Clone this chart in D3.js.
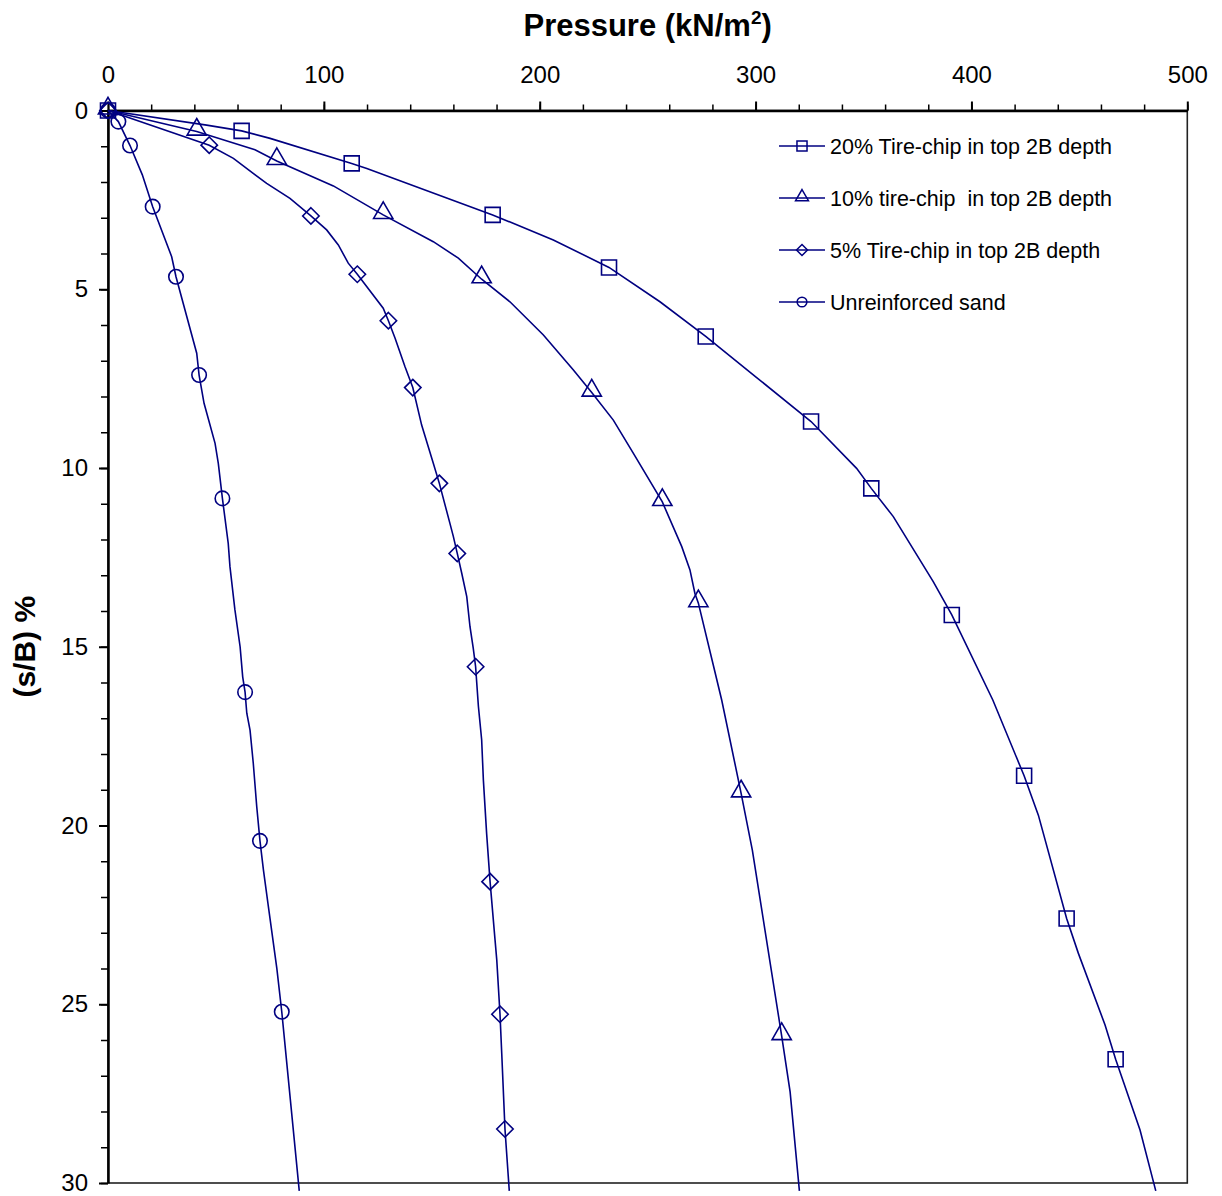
<!DOCTYPE html>
<html>
<head>
<meta charset="utf-8">
<script src="https://cdn.jsdelivr.net/npm/d3@7"></script>
<style>
  body { margin: 0; background: #fff; }
  text { font-family: Arial, "Liberation Sans", sans-serif; fill: #000; }
</style>
</head>
<body>
<div class="chart"></div>
<script>
'use strict';

// Axis ticks
const xMajorTicks = [0, 100, 200, 300, 400, 500];
const yMajorTicks = [0, 5, 10, 15, 20, 25, 30];

// Legend labels (top to bottom)
const seriesNames = [
  "20% Tire-chip in top 2B depth",
  "10% tire-chip  in top 2B depth",
  "5% Tire-chip in top 2B depth",
  "Unreinforced sand"
];

// Curves: [pressure kN/m2, s/B %]
const line20 = [[0,0],[45.7,0.41],[61.9,0.57],[75.1,0.78],[112.9,1.48],[119.9,1.62],[178.2,2.92],[206.3,3.62],
  [232.1,4.39],[255.7,5.35],[276.9,6.32],[300.5,7.47],[325.7,8.70],[346.8,10.01],[353.6,10.57],[363.8,11.36],
  [382.3,13.18],[390.9,14.11],[409.9,16.49],[424.4,18.61],[431.0,19.71],[444.1,22.60],[449.5,23.57],
  [461.9,25.58],[466.8,26.54],[478.1,28.52],[485.4,30.22]];
const line10 = [[0,0],[41.1,0.59],[68.1,1.10],[78.2,1.41],[104.4,2.11],[127.5,2.92],[150.7,3.67],[162.3,4.13],
  [173.1,4.72],[186.2,5.35],[201.7,6.28],[215.6,7.26],[224.1,7.89],[234.1,8.66],[243.4,9.59],[256.8,10.95],
  [265.8,12.20],[269.6,12.85],[271.9,13.51],[273.5,13.78],[280.4,15.51],[284.3,16.49],[293.3,19.10],
  [298.5,20.69],[312.1,25.89],[316.0,27.45],[320.3,30.22]];
const line5 = [[0,0],[46.9,0.97],[58.1,1.34],[73.5,2.04],[84.3,2.46],[94.0,2.95],[101.3,3.34],[106.7,3.76],
  [111.3,4.27],[115.5,4.58],[127.5,5.53],[129.9,5.88],[133.0,6.37],[137.6,7.17],[141.2,7.75],[145.3,8.80],
  [150.7,9.87],[153.5,10.43],[158.4,11.55],[160.0,11.92],[161.8,12.39],[163.9,12.95],[166.2,13.60],
  [167.7,14.44],[169.2,15.04],[170.3,15.56],[171.6,16.67],[173.1,17.60],[173.9,18.73],[175.4,20.22],
  [177.0,21.57],[179.3,23.20],[180.1,23.76],[181.6,25.28],[182.4,26.37],[183.9,28.49],[185.9,30.22]];
const line0 = [[0,0],[4.8,0.31],[10.2,0.98],[15.9,1.80],[20.7,2.69],[29.5,4.09],[31.5,4.65],[41.1,6.79],
  [42.2,7.40],[44.5,8.19],[49.6,9.31],[51.1,9.87],[53.0,10.85],[55.7,12.11],[56.5,12.76],[58.8,13.97],
  [61.2,15.00],[62.4,15.84],[63.5,16.27],[64.3,16.86],[65.8,17.33],[67.3,18.26],[68.9,19.47],[70.4,20.43],
  [72.0,21.24],[74.3,22.27],[78.2,23.99],[80.5,25.21],[88.6,30.22]];

// Measured points (markers)
const marks20 = [[0,0],[61.9,0.57],[112.9,1.48],[178.2,2.92],[232.1,4.39],[276.9,6.32],[325.7,8.70],
  [353.6,10.57],[390.9,14.11],[424.4,18.61],[444.1,22.60],[466.8,26.54]];
const marks10 = [[0,0],[41.1,0.59],[78.2,1.41],[127.5,2.92],[173.1,4.72],[224.1,7.89],[256.8,10.95],
  [273.5,13.78],[293.3,19.10],[312.1,25.89]];
const marks5 = [[0,0],[46.9,0.97],[94.0,2.95],[115.5,4.58],[129.9,5.88],[141.2,7.75],[153.5,10.43],
  [161.8,12.39],[170.3,15.56],[177.0,21.57],[181.6,25.28],[183.9,28.49]];
const marks0 = [[0,0],[4.8,0.31],[10.2,0.98],[20.7,2.69],[31.5,4.65],[42.2,7.40],[53.0,10.85],
  [63.5,16.27],[70.4,20.43],[80.5,25.21]];

const series = [
  {name: seriesNames[0], line: line20, marks: marks20, shape: "square"},
  {name: seriesNames[1], line: line10, marks: marks10, shape: "triangle"},
  {name: seriesNames[2], line: line5, marks: marks5, shape: "diamond"},
  {name: seriesNames[3], line: line0, marks: marks0, shape: "circle"}
];

const W = 1222, H = 1196;
const plot = {left: 108, right: 1187.3, top: 110.5, bottom: 1183};
const navy = "#000080";

const svg = d3.select(".chart").append("svg")
  .attr("width", W)
  .attr("height", H);

const xScale = d3.scaleLinear().domain([0, 500]).range([plot.left, plot.right]);
const yScale = d3.scaleLinear().domain([0, 30]).range([plot.top, plot.bottom]);

// plot frame (right and bottom)
svg.append("rect")
  .attr("x", plot.left).attr("y", plot.top)
  .attr("width", plot.right - plot.left)
  .attr("height", plot.bottom - plot.top)
  .attr("fill", "none")
  .attr("stroke", "#222")
  .attr("stroke-width", 1.6);

// minor ticks
svg.append("g")
  .attr("transform", `translate(0,${plot.top})`)
  .call(d3.axisTop(xScale).tickValues(d3.range(0, 501, 20)).tickSize(6).tickFormat(""))
  .call(g => g.select(".domain").remove())
  .call(g => g.selectAll("line").attr("stroke-width", 1.5));
svg.append("g")
  .attr("transform", `translate(${plot.left},0)`)
  .call(d3.axisLeft(yScale).tickValues(d3.range(0, 31, 1)).tickSize(7).tickFormat(""))
  .call(g => g.select(".domain").remove())
  .call(g => g.selectAll("line").attr("stroke-width", 1.5));

// major axes
const xAxis = svg.append("g")
  .attr("transform", `translate(0,${plot.top})`)
  .call(d3.axisTop(xScale).tickValues(xMajorTicks).tickSize(9).tickSizeOuter(0).tickPadding(19));
xAxis.selectAll("text").style("font-size", "24px");
xAxis.select(".domain").attr("stroke-width", 2.5);
xAxis.selectAll("line").attr("stroke-width", 2);

const yAxis = svg.append("g")
  .attr("transform", `translate(${plot.left},0)`)
  .call(d3.axisLeft(yScale).tickValues(yMajorTicks).tickSize(9).tickSizeOuter(0).tickPadding(11));
yAxis.selectAll("text").style("font-size", "24px");
yAxis.select(".domain").attr("stroke-width", 2.5);
yAxis.selectAll("line").attr("stroke-width", 2);

// axis titles
const title = svg.append("text")
  .attr("x", (plot.left + plot.right) / 2)
  .attr("y", 36)
  .attr("text-anchor", "middle")
  .style("font-size", "31px")
  .style("font-weight", "bold")
  .text("Pressure (kN/m");
title.append("tspan").attr("dy", -12).style("font-size", "19px").text("2");
title.append("tspan").attr("dy", 12).text(")");

svg.append("text")
  .attr("transform", `translate(35,${(plot.top + plot.bottom) / 2}) rotate(-90)`)
  .attr("text-anchor", "middle")
  .style("font-size", "30px")
  .style("font-weight", "bold")
  .text("(s/B) %");

// marker shapes; diamond is a square turned 45 degrees
const squareDiamond = {
  draw(context, size) {
    const r = Math.sqrt(size / 2);
    context.moveTo(0, -r);
    context.lineTo(r, 0);
    context.lineTo(0, r);
    context.lineTo(-r, 0);
    context.closePath();
  }
};
const symbolFor = {
  square: d3.symbolSquare,
  triangle: d3.symbolTriangle,
  diamond: squareDiamond,
  circle: d3.symbolCircle
};
const sizeFor = {square: 225, triangle: 160, diamond: 135, circle: 165};

const lineGen = d3.line()
  .x(d => xScale(d[0]))
  .y(d => yScale(d[1]));

series.forEach(s => {
  svg.append("path")
    .datum(s.line)
    .attr("d", lineGen)
    .attr("fill", "none")
    .attr("stroke", navy)
    .attr("stroke-width", 1.6);

  svg.selectAll(null)
    .data(s.marks)
    .enter()
    .append("path")
    .attr("transform", d => `translate(${xScale(d[0])},${yScale(d[1]) + (s.shape === "triangle" ? -2 : 0)})`)
    .attr("d", d3.symbol().type(symbolFor[s.shape]).size(sizeFor[s.shape]))
    .attr("fill", "none")
    .attr("stroke", navy)
    .attr("stroke-width", 1.6);
});

// legend
const legend = svg.append("g").attr("transform", "translate(779,146)");
series.forEach((s, i) => {
  const row = legend.append("g").attr("transform", `translate(0,${i * 52})`);
  row.append("line")
    .attr("x1", 0).attr("x2", 46)
    .attr("stroke", navy).attr("stroke-width", 1.6);
  row.append("path")
    .attr("transform", `translate(23,${s.shape === "triangle" ? -1 : 0})`)
    .attr("d", d3.symbol().type(symbolFor[s.shape]).size(sizeFor[s.shape] * 0.45))
    .attr("fill", "none")
    .attr("stroke", navy)
    .attr("stroke-width", 1.5);
  row.append("text")
    .attr("x", 51)
    .attr("dy", "0.35em")
    .style("font-size", "21.5px")
    .style("white-space", "pre")
    .attr("xml:space", "preserve")
    .text(s.name);
});
</script>
</body>
</html>
